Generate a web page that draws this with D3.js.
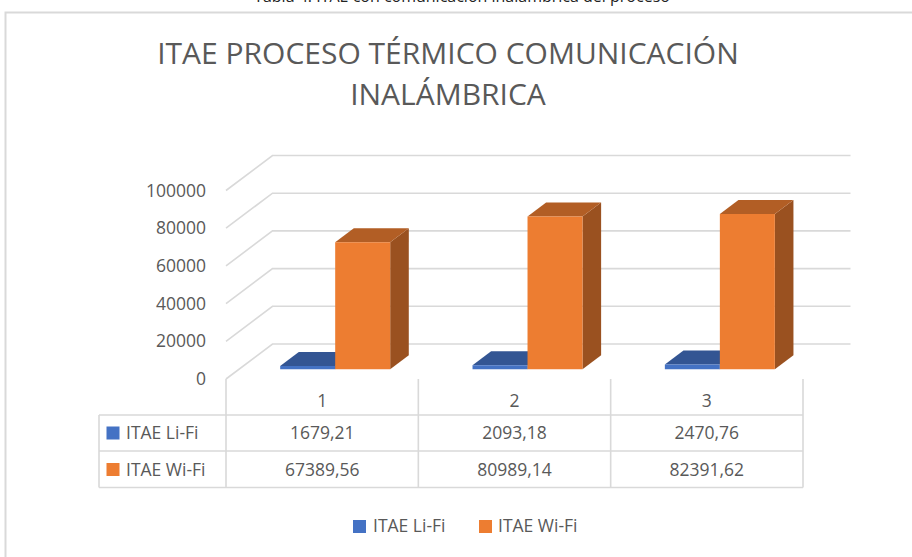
<!DOCTYPE html>
<html><head><meta charset="utf-8">
<script src="https://cdn.jsdelivr.net/npm/d3@7/dist/d3.min.js"></script>
<style>html,body{margin:0;padding:0;background:#fff;overflow:hidden}svg{display:block}text{font-family:"Open Sans","Noto Sans",sans-serif;fill:#595959}</style>
</head><body><svg id="c" width="912" height="557"></svg>
<script>
const categories=["1","2","3"];
const seriesNames=["ITAE Li-Fi","ITAE Wi-Fi"];
const liFi=[1679.21,2093.18,2470.76];
const wiFi=[67389.56,80989.14,82391.62];
const labelsLiFi=["1679,21","2093,18","2470,76"];
const labelsWiFi=["67389,56","80989,14","82391,62"];
const ticks=[0,20000,40000,60000,80000,100000];
const titleLines=["ITAE PROCESO TÉRMICO COMUNICACIÓN","INALÁMBRICA"];
const colors={front:["#4472c4","#ed7d31"],top:["#335593","#b25e25"],side:["#2a4778","#9a5120"]};
const grid="#d9d9d9";

const svg=d3.select("#c");
const y=d3.scaleLinear().domain([0,100000]).range([379,190.5]);
const x=d3.scaleBand().domain(categories).range([226,803]);
const inner=d3.scaleBand().domain(seriesNames).range([-55,55]);
// depth axis: 0 = front of floor, 1 = back wall
const dzX=d3.scaleLinear().domain([0,1]).range([0,46.5]);
const dzY=d3.scaleLinear().domain([0,1]).range([0,-35]);
const P=(px,v,z)=>[px+dzX(z),y(v)+dzY(z)];
const line=d3.line();
const area=pts=>line(pts)+"Z";
const plotRight=804;

// outer frame
svg.append("path").attr("d","M5.5,557V12.5H912").attr("fill","none").attr("stroke",grid).attr("stroke-width",2);

// cropped caption above the chart
svg.append("text").attr("x",462).attr("y",2).attr("text-anchor","middle").style("font-size","16px").style("fill","#222")
  .text("Tabla 4. ITAE con comunicación inalámbrica del proceso");

// title
svg.selectAll("text.title").data(titleLines).join("text").attr("class","title")
  .attr("x",448).attr("y",(d,i)=>[64,105][i]).attr("text-anchor","middle")
  .style("font-size","30px").text(d=>d);

// walls gridlines
svg.selectAll("path.g").data(ticks).join("path").attr("class","g")
  .attr("fill","none").attr("stroke",grid).attr("stroke-width",1.6)
  .attr("d",t=>line([P(226,t,0),P(226,t,1),P(plotRight,t,1)]));

// axis labels
svg.selectAll("text.tick").data(ticks).join("text").attr("class","tick")
  .attr("x",206).attr("y",t=>y(t)+6).attr("text-anchor","end").style("font-size","17.5px").text(d=>d);

// bars
const z0=0.28,z1=0.68;
const bars=[];
seriesNames.forEach((s,si)=>categories.forEach((c,ci)=>{
  bars.push({s,si,c,v:[liFi,wiFi][si][ci],x0:x(c)+x.bandwidth()/2+inner(s),w:inner.bandwidth()});
}));
const gb=svg.append("g");
const bg=gb.selectAll("g").data(bars).join("g");
bg.append("path").attr("fill",d=>colors.side[d.si])
  .attr("d",d=>area([P(d.x0+d.w,0,z0),P(d.x0+d.w,0,z1),P(d.x0+d.w,d.v,z1),P(d.x0+d.w,d.v,z0)]));
bg.append("path").attr("fill",d=>colors.top[d.si])
  .attr("d",d=>area([P(d.x0,d.v,z0),P(d.x0+d.w,d.v,z0),P(d.x0+d.w,d.v,z1),P(d.x0,d.v,z1)]));
bg.append("path").attr("fill",d=>colors.front[d.si])
  .attr("d",d=>area([P(d.x0,0,z0),P(d.x0+d.w,0,z0),P(d.x0+d.w,d.v,z0),P(d.x0,d.v,z0)]));

// data table
const rowY=d3.scaleOrdinal().domain(["head","a","b","end"]).range([415,451,487.5]);
const tl=svg.append("g").attr("stroke",grid).attr("stroke-width",1.6).attr("fill","none");
const edges=[226].concat(categories.map(c=>x(c)+x.bandwidth()));
edges.forEach(e=>tl.append("path").attr("d",line([[e,379],[e,487.5]])));
tl.append("path").attr("d",line([[99,415],[99,487.5]]));
[415,451,487.5].forEach(v=>tl.append("path").attr("d",line([[99,v],[803,v]])));

svg.selectAll("text.cat").data(categories).join("text").attr("class","cat")
  .attr("x",c=>x(c)+x.bandwidth()/2).attr("y",407).attr("text-anchor","middle").style("font-size","17.5px").text(d=>d);

const rows=[labelsLiFi,labelsWiFi];
rows.forEach((r,ri)=>{
  const cy=[433,469.5][ri];
  svg.append("rect").attr("x",106.5).attr("y",cy-6.5).attr("width",13).attr("height",13).attr("fill",colors.front[ri]);
  svg.append("text").attr("x",126).attr("y",cy+6).style("font-size","17.5px").text(seriesNames[ri]);
  svg.selectAll("text.r"+ri).data(r).join("text").attr("class","r"+ri)
    .attr("x",(d,i)=>x(categories[i])+x.bandwidth()/2).attr("y",cy+6).attr("text-anchor","middle").style("font-size","17.5px").text(d=>d);
});

// legend
[[353,373],[479,498]].forEach(([sx,tx],i)=>{
  svg.append("rect").attr("x",sx).attr("y",520).attr("width",13).attr("height",13).attr("fill",colors.front[i]);
  svg.append("text").attr("x",tx).attr("y",532).style("font-size","17.5px").text(seriesNames[i]);
});
</script></body></html>
